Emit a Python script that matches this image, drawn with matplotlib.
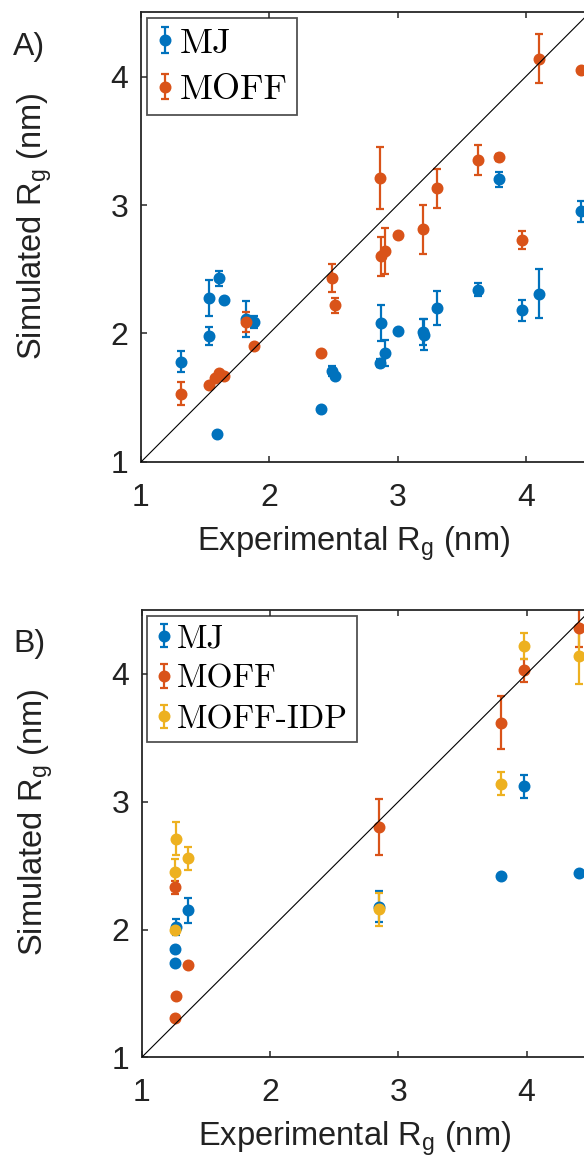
import matplotlib
matplotlib.use("Agg")
import matplotlib.pyplot as plt
from matplotlib.container import ErrorbarContainer
from matplotlib.legend_handler import HandlerErrorbar

plt.rcParams["font.family"] = ["Liberation Sans", "DejaVu Sans"]
plt.rcParams["mathtext.fontset"] = "custom"
plt.rcParams["mathtext.rm"] = "Liberation Sans"
plt.rcParams["mathtext.it"] = "Liberation Sans"

# colours (MATLAB default order)
BLUE = "#0072BD"
ORANGE = "#D95319"
YELLOW = "#EDB120"
AXIS = "#262626"

# --- panel A: MJ vs MOFF ---
mj_a_x = [1.31, 1.53, 1.61, 1.65, 1.53, 1.82, 1.88, 1.59, 2.40, 2.49, 2.51, 2.87,
          2.86, 2.90, 3.00, 3.20, 3.21, 3.31, 3.63, 3.79, 3.97, 4.10, 4.43]
mj_a_y = [1.78, 2.28, 2.43, 2.26, 1.98, 2.11, 2.09, 1.22, 1.41, 1.71, 1.67, 2.08,
          1.77, 1.85, 2.02, 2.01, 1.99, 2.20, 2.34, 3.20, 2.18, 2.31, 2.95]
mj_a_err = [0.08, 0.14, 0.06, 0.0, 0.07, 0.14, 0.05, 0.0, 0.0, 0.04, 0.0, 0.14,
            0.03, 0.10, 0.0, 0.10, 0.12, 0.13, 0.05, 0.06, 0.08, 0.19, 0.08]

moff_a_x = [1.31, 1.53, 1.58, 1.61, 1.65, 1.82, 1.88, 2.40, 2.49, 2.51, 2.86,
            2.87, 2.90, 3.00, 3.20, 3.31, 3.63, 3.79, 3.97, 4.10, 4.43]
moff_a_y = [1.53, 1.60, 1.65, 1.69, 1.67, 2.09, 1.90, 1.85, 2.43, 2.22, 3.21,
            2.60, 2.64, 2.77, 2.81, 3.13, 3.35, 3.37, 2.73, 4.14, 4.05]
moff_a_err = [0.09, 0.0, 0.0, 0.0, 0.0, 0.08, 0.0, 0.0, 0.11, 0.06, 0.24,
              0.15, 0.18, 0.0, 0.19, 0.15, 0.12, 0.03, 0.07, 0.19, 0.0]

# --- panel B: MJ vs MOFF vs MOFF-IDP ---
mj_b_x = [1.26, 1.26, 1.27, 1.36, 2.85, 3.80, 3.98, 4.41]
mj_b_y = [1.74, 1.85, 2.02, 2.15, 2.18, 2.42, 3.12, 2.44]
mj_b_err = [0.0, 0.0, 0.06, 0.10, 0.12, 0.0, 0.09, 0.0]

moff_b_x = [1.26, 1.27, 1.26, 1.36, 2.85, 3.80, 3.98, 4.41]
moff_b_y = [1.31, 1.48, 2.33, 1.72, 2.80, 3.62, 4.03, 4.36]
moff_b_err = [0.0, 0.0, 0.05, 0.0, 0.22, 0.21, 0.09, 0.15]

idp_b_x = [1.27, 1.26, 1.36, 1.26, 2.85, 3.80, 3.98, 4.41]
idp_b_y = [2.71, 2.45, 2.56, 2.00, 2.16, 3.14, 4.22, 4.14]
idp_b_err = [0.13, 0.10, 0.09, 0.0, 0.13, 0.09, 0.10, 0.22]

limits = [1, 4.5]
ticks = [1, 2, 3, 4]


def draw_panel(ax, series, letter, legend_size, label_spacing):
    # mew also sets the cap thickness, so the marker itself is kept a bit smaller
    for x, y, err, color, name in series:
        ax.errorbar(x, y, yerr=err, fmt="o", color=color, ms=7, mew=1.6,
                    elinewidth=1.6, capsize=3.0, label=name)

    ax.plot(limits, limits, color="black", lw=0.8, zorder=5)

    ax.set_xlim(limits)
    ax.set_ylim(limits)
    ax.set_xticks(ticks)
    ax.set_yticks(ticks)
    ax.tick_params(direction="in", length=4.5, width=1.1, colors=AXIS,
                   labelcolor="#222222", labelsize=23, top=True, right=True)
    ax.tick_params(axis="x", pad=15)
    ax.tick_params(axis="y", pad=9)
    for spine in ax.spines.values():
        spine.set_linewidth(1.3)
        spine.set_color(AXIS)

    ax.set_xlabel(r"Experimental R$_\mathrm{g}$ (nm)", fontsize=23.5, color="#222222")
    ax.set_ylabel(r"Simulated R$_\mathrm{g}$ (nm)", fontsize=23.5, color="#222222")
    ax.xaxis.set_label_coords(0.473, -0.138)
    ax.xaxis.label.set_va("top")
    ax.yaxis.set_label_coords(-0.193, 0.525)

    ax.text(-0.285, 0.906, letter, transform=ax.transAxes, fontsize=23,
            color="#222222", ha="left", va="baseline")

    leg = ax.legend(loc="upper left", prop={"family": "cmr10", "size": legend_size},
                    handlelength=0.5, handletextpad=0.15, borderpad=0.25,
                    borderaxespad=0.17, labelspacing=label_spacing, fancybox=False,
                    handler_map={ErrorbarContainer: HandlerErrorbar(yerr_size=0.35)})
    leg.get_frame().set_edgecolor(AXIS)
    leg.get_frame().set_linewidth(1.3)


fig = plt.figure(figsize=(5.84, 11.59), dpi=100)
fig.patch.set_facecolor("white")

ax1 = fig.add_axes([0.2414, 0.6014, 0.7688, 0.388])
draw_panel(ax1, [(mj_a_x, mj_a_y, mj_a_err, BLUE, "MJ"),
                 (moff_a_x, moff_a_y, moff_a_err, ORANGE, "MOFF")],
           "A)", 26, 0.4)

ax2 = fig.add_axes([0.2426, 0.0877, 0.7688, 0.3859])
draw_panel(ax2, [(mj_b_x, mj_b_y, mj_b_err, BLUE, "MJ"),
                 (moff_b_x, moff_b_y, moff_b_err, ORANGE, "MOFF"),
                 (idp_b_x, idp_b_y, idp_b_err, YELLOW, "MOFF-IDP")],
           "B)", 24, 0.33)

fig.savefig("out.png", dpi=100, facecolor="white")
